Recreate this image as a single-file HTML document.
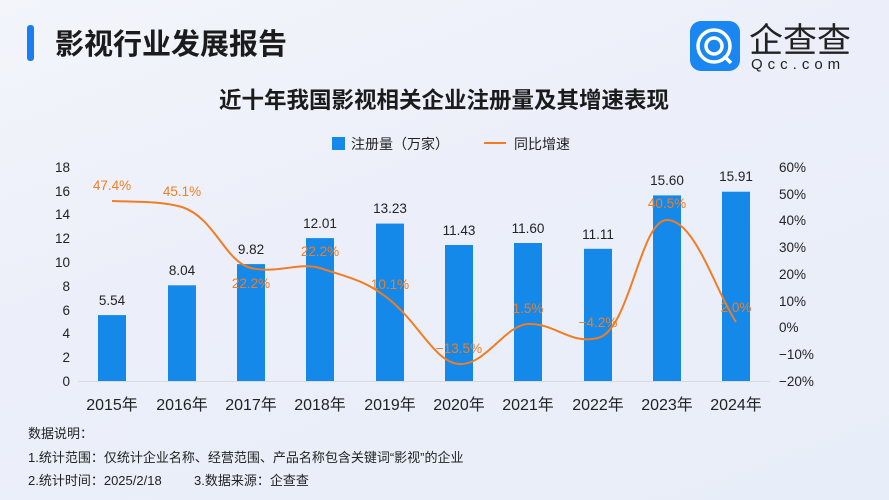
<!DOCTYPE html>
<html><head><meta charset="utf-8"><style>
body{margin:0;width:889px;height:500px;overflow:hidden;font-family:"Liberation Sans","Noto Sans CJK SC",sans-serif;}
.bg{position:absolute;left:0;top:0;width:889px;height:500px;background:linear-gradient(160deg,#f3f5fb 0%,#eceff9 40%,#e8eef9 100%);}
</style></head><body><div class="bg"></div>
<svg width="889" height="500" style="position:absolute;left:0;top:0" font-family="Liberation Sans, Noto Sans CJK SC, sans-serif">
<rect x="27" y="25" width="7" height="36" rx="3" fill="#1a7ef0"/>
<text x="55" y="54" font-size="29" font-weight="bold" fill="#1b1b1b">影视行业发展报告</text>
<rect x="690" y="21" width="50" height="50" rx="11" fill="#1a86f2"/>
<circle cx="714" cy="46" r="16" fill="none" stroke="#fff" stroke-width="3.5"/>
<circle cx="714" cy="46" r="8" fill="none" stroke="#fff" stroke-width="3.5"/>
<line x1="724" y1="56" x2="731" y2="63" stroke="#fff" stroke-width="3.5"/>
<text x="749" y="52" font-size="34" fill="#222">企查查</text>
<text x="751" y="69" font-size="15" fill="#222" letter-spacing="5">Qcc.com</text>
<text x="444" y="108" font-size="22.5" font-weight="bold" fill="#1b1b1b" text-anchor="middle">近十年我国影视相关企业注册量及其增速表现</text>
<rect x="332" y="137" width="13" height="13" fill="#1589e9"/>
<text x="351" y="149" font-size="14" fill="#222">注册量（万家）</text>
<line x1="484" y1="143" x2="506" y2="143" stroke="#f07d22" stroke-width="2"/>
<text x="514" y="149" font-size="14" fill="#222">同比增速</text>
<g font-size="13.5" fill="#222" text-anchor="end">
<text x="70" y="386">0</text><text x="70" y="362">2</text><text x="70" y="338">4</text><text x="70" y="315">6</text><text x="70" y="291">8</text><text x="70" y="267">10</text><text x="70" y="243">12</text><text x="70" y="219">14</text><text x="70" y="196">16</text><text x="70" y="172">18</text>
</g>
<g font-size="13.5" fill="#222">
<text x="779" y="172">60%</text><text x="779" y="199">50%</text><text x="779" y="225">40%</text><text x="779" y="252">30%</text><text x="779" y="279">20%</text><text x="779" y="306">10%</text><text x="779" y="332">0%</text><text x="779" y="359">−10%</text><text x="779" y="386">−20%</text>
</g>
<line x1="78" y1="381.5" x2="770" y2="381.5" stroke="#d8dbe2"/>
<g fill="#1589e9">
<rect x="98" y="315.1" width="28" height="65.9"/>
<rect x="168" y="285.3" width="28" height="95.7"/>
<rect x="237" y="264.1" width="28" height="116.9"/>
<rect x="306" y="238.1" width="28" height="142.9"/>
<rect x="376" y="223.6" width="28" height="157.4"/>
<rect x="445" y="245" width="28" height="136"/>
<rect x="514" y="243" width="28" height="138"/>
<rect x="584" y="248.8" width="28" height="132.2"/>
<rect x="653" y="195.4" width="28" height="185.6"/>
<rect x="722" y="191.7" width="28" height="189.3"/>
</g>
<g font-size="13.5" fill="#222" text-anchor="middle">
<text x="112" y="305">5.54</text><text x="182" y="275">8.04</text><text x="251" y="254">9.82</text><text x="320" y="228">12.01</text><text x="390" y="213">13.23</text><text x="459" y="235">11.43</text><text x="528" y="233">11.60</text><text x="598" y="239">11.11</text><text x="667" y="185">15.60</text><text x="736" y="181">15.91</text>
</g>
<path d="M112,201 C140,202 160,201 182,207 C215,218 225,262 251,268 C275,274 300,262 320,268 C350,278 365,280 390,300 C420,325 435,362 459,364 C485,366 505,325 528,324 C555,323 570,345 598,338 C630,330 640,220 667,220 C695,220 715,290 736,322" fill="none" stroke="#f07d22" stroke-width="2"/>
<g font-size="13.5" fill="#f07d22" text-anchor="middle">
<text x="112" y="190">47.4%</text><text x="182" y="196">45.1%</text><text x="251" y="288">22.2%</text><text x="320" y="256">22.2%</text><text x="390" y="289">10.1%</text><text x="459" y="353">−13.5%</text><text x="528" y="313">1.5%</text><text x="598" y="327">−4.2%</text><text x="667" y="208">40.5%</text><text x="736" y="312">2.0%</text>
</g>
<g font-size="16" fill="#222" text-anchor="middle">
<text x="112" y="410">2015年</text><text x="182" y="410">2016年</text><text x="251" y="410">2017年</text><text x="320" y="410">2018年</text><text x="390" y="410">2019年</text><text x="459" y="410">2020年</text><text x="528" y="410">2021年</text><text x="598" y="410">2022年</text><text x="667" y="410">2023年</text><text x="736" y="410">2024年</text>
</g>
<g font-size="13" fill="#222">
<text x="28" y="438">数据说明：</text>
<text x="28" y="462">1.统计范围：仅统计企业名称、经营范围、产品名称包含关键词“影视”的企业</text>
<text x="28" y="485">2.统计时间：2025/2/18</text>
<text x="194" y="485">3.数据来源：企查查</text>
</g>
</svg></body></html>
